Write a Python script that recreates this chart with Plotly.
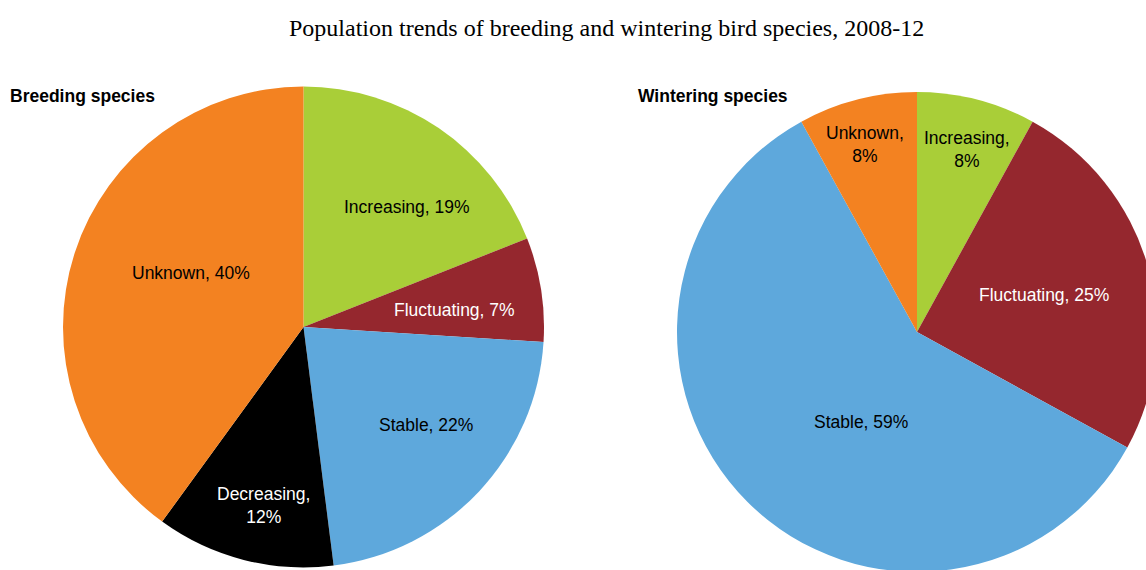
import math
import plotly.graph_objects as go

# ---- data ----
categories = ["Increasing", "Fluctuating", "Stable", "Decreasing", "Unknown"]
breeding_pct = [19, 7, 22, 12, 40]
wintering_pct = [8, 25, 59, 0, 8]
title_text = "Population trends of breeding and wintering bird species, 2008-12"
subtitles = ["Breeding species", "Wintering species"]

# ---- styles ----
colors = {"Increasing": "#A9CE38", "Fluctuating": "#95272E", "Stable": "#5EA8DC",
          "Decreasing": "#000000", "Unknown": "#F38221"}
text_colors = {"Increasing": "black", "Fluctuating": "white", "Stable": "black",
               "Decreasing": "white", "Unknown": "black"}

W, H = 1160, 575
FONT = "Liberation Sans, Arial, sans-serif"

# per-pie layout: pixel box of the pie, label line-breaks, label placement
# (radial fraction, angular offset in degrees) in the style of the original's best-fit labels
pies = [
    dict(values=breeding_pct, box=(63, 544, 86.5, 567.5), breaks={"Decreasing"},
         place={"Increasing": (0.66, 6.6), "Fluctuating": (0.63, 2.5), "Stable": (0.65, -4.6),
                "Decreasing": (0.76, -1.6), "Unknown": (0.52, 7.6)}),
    dict(values=wintering_pct, box=(677, 1157, 92, 572), breaks={"Increasing", "Unknown"},
         place={"Increasing": (0.79, 1.0), "Fluctuating": (0.55, 0.0), "Stable": (0.44, -13.1),
                "Unknown": (0.81, -1.1)}),
]

fig = go.Figure()
for p in pies:
    x0, x1, y0, y1 = p["box"]
    cats = [c for c, v in zip(categories, p["values"]) if v > 0]
    vv = [v for v in p["values"] if v > 0]
    fig.add_trace(go.Pie(
        labels=cats, values=vv, sort=False, direction="clockwise", rotation=0,
        marker=dict(colors=[colors[c] for c in cats], line=dict(width=0)),
        textinfo="none", hoverinfo="label+percent",
        domain=dict(x=[x0 / W, x1 / W], y=[1 - y1 / H, 1 - y0 / H]), showlegend=False,
    ))
    # labels placed from the slice mid-angles
    cx, cy, R = (x0 + x1) / 2, (y0 + y1) / 2, (x1 - x0) / 2
    total = sum(vv)
    cum = 0
    for c, v in zip(cats, vv):
        mid = (cum + v / 2) / total * 360
        cum += v
        frac, off = p["place"][c]
        th = math.radians(mid + off)
        lx = cx + frac * R * math.sin(th)
        ly = cy - frac * R * math.cos(th)
        sep = "<br>" if c in p["breaks"] else " "
        fig.add_annotation(text=f"{c},{sep}{v}%", x=lx / W, y=1 - ly / H,
                           xref="paper", yref="paper", xanchor="center", yanchor="middle",
                           showarrow=False,
                           font=dict(family=FONT, size=17.5, color=text_colors[c]))

fig.add_annotation(text=title_text, x=606 / W, y=1 - 28 / H, xref="paper", yref="paper",
                   xanchor="center", yanchor="middle", showarrow=False,
                   font=dict(family="Liberation Serif, Times New Roman, serif", size=24, color="black"))
for sub, x in zip(subtitles, [8, 636]):
    fig.add_annotation(text=f"<b>{sub}</b>", x=x / W, y=1 - 96 / H, xref="paper", yref="paper",
                       xanchor="left", yanchor="middle", showarrow=False,
                       font=dict(family=FONT, size=17.5, color="black"))

fig.update_layout(width=W, height=H, margin=dict(l=0, r=0, t=0, b=0),
                  paper_bgcolor="white", plot_bgcolor="white")

fig.write_html("out.html", post_script=(
    "document.body.style.margin='0';document.body.style.overflow='hidden';"
    "document.documentElement.style.overflow='hidden';"))
